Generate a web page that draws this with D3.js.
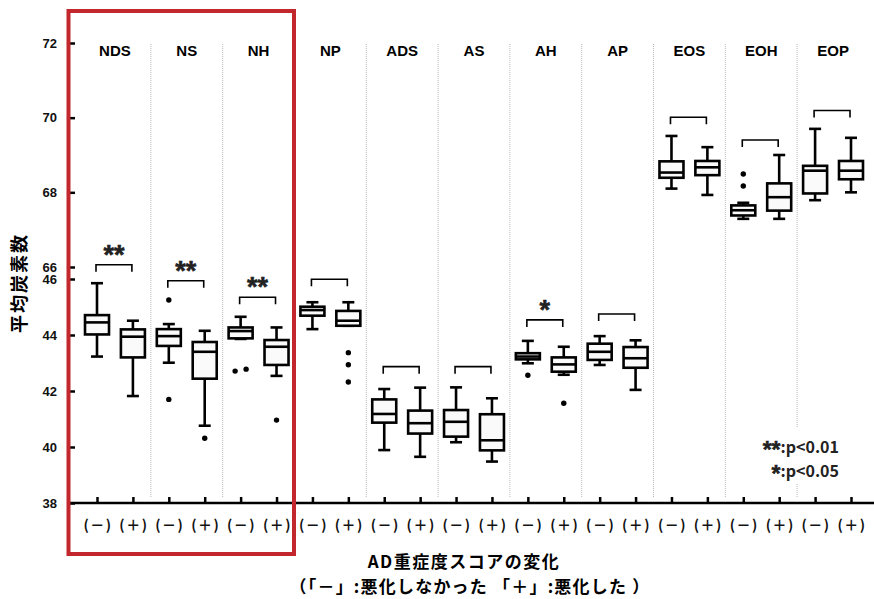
<!DOCTYPE html>
<html>
  <head>
    <meta charset="utf-8" />
    <title>平均炭素数 box plot</title>
    <script src="https://d3js.org/d3.v7.min.js"></script>
    <style>
      body { margin: 0; background: #fff; }
      .lat { font-family: "Liberation Sans", Arial, sans-serif; font-weight: bold; }
      .jp { font-family: "Noto Sans CJK JP", sans-serif; font-weight: bold; }
    </style>
  </head>
  <body>
    <svg width="874" height="599"></svg>
    <script>
      // ---- data ----
      const groups = ["NDS", "NS", "NH", "NP", "ADS", "AS", "AH", "AP", "EOS", "EOH", "EOP"];
      const upperGroups = ["EOS", "EOH", "EOP"]; // drawn on the 66-72 panel
      const signs = ["−", "+"];
      // order: NDS(−), NDS(+), NS(−), NS(+), ...
      const whiskerLow = [43.23, 41.82, 43.01, 40.76, 43.86, 42.54, 44.21, 44.33, 39.89, 39.65, 40.17, 39.48, 42.99, 42.58, 42.93, 42.04, 68.10, 67.93, 67.29, 67.29, 67.79, 68.00];
      const q1 =         [44.02, 43.20, 43.61, 42.44, 43.88, 42.93, 44.69, 44.33, 40.87, 40.48, 40.37, 39.88, 43.13, 42.69, 43.11, 42.83, 68.39, 68.46, 67.38, 67.51, 67.97, 68.35];
      const median =     [44.45, 43.94, 43.96, 43.40, 44.14, 43.58, 44.89, 44.51, 41.18, 40.85, 40.90, 40.24, 43.23, 42.95, 43.40, 43.17, 68.53, 68.67, 67.52, 67.87, 68.58, 68.58];
      const q3 =         [44.71, 44.20, 44.21, 43.75, 44.27, 43.82, 45.01, 44.86, 41.70, 41.30, 41.32, 41.17, 43.35, 43.20, 43.69, 43.57, 68.83, 68.84, 67.65, 68.24, 68.71, 68.84];
      const whiskerHigh =[45.85, 44.51, 44.39, 44.15, 44.65, 44.27, 45.17, 45.17, 42.07, 42.12, 42.13, 41.74, 43.79, 43.58, 43.96, 43.81, 69.51, 69.21, 67.72, 69.00, 69.70, 69.46];
      const outliers = [[], [], [45.25, 41.70], [40.31], [42.71, 42.78], [40.96], [], [43.37, 42.94, 42.32], [], [], [], [], [42.56], [41.56], [], [], [], [], [68.49, 68.17], [], [], []];
      // significance brackets, one per group
      const bracketLevel = [46.51, 45.94, 45.35, 45.99, 42.87, 42.87, 44.54, 44.75, 70.01, 69.40, 70.19];
      const sigMark = ["**", "**", "**", "", "", "", "*", "", "", "", ""];
      const lowTicks = [38, 40, 42, 44, 46];
      const highTicks = [66, 68, 70, 72];
      const legendMarks = ["**", "*"];
      const legendText = [":p<0.01", ":p<0.05"];
      const xTitle = "AD重症度スコアの変化";
      const xSubtitle = "（「－」:悪化しなかった 「＋」:悪化した ）";
      const yTitle = "平均炭素数";

      // ---- scales ----
      const svg = d3.select("svg");
      const keys = groups.flatMap((g) => signs.map((s) => g + s));
      const x = d3.scalePoint().domain(keys).range([97, 851]);
      const yLow = d3.scaleLinear().domain([38, 46]).range([503, 279]);
      const yHigh = d3.scaleLinear().domain([66, 72]).range([267, 43]);
      const yFor = (g) => (upperGroups.includes(g) ? yHigh : yLow);

      // group separators (dotted)
      const sepX = groups.slice(1).map((g, i) => (x(groups[i] + "+") + x(g + "−")) / 2);
      svg
        .selectAll(".sep")
        .data(sepX)
        .enter()
        .append("line")
        .attr("x1", (d) => d)
        .attr("x2", (d) => d)
        .attr("y1", 44)
        .attr("y2", 497)
        .attr("stroke", "#b8b8b8")
        .attr("stroke-width", 1)
        .attr("stroke-dasharray", "1,1");

      // group labels
      svg
        .selectAll(".glab")
        .data(groups)
        .enter()
        .append("text")
        .attr("class", "lat")
        .attr("x", (g) => (x(g + "−") + x(g + "+")) / 2)
        .attr("y", 56)
        .attr("text-anchor", "middle")
        .attr("font-size", 15)
        .text((g) => g);

      // y axes
      const axL = svg.append("g").attr("transform", "translate(69,0)");
      const fmt = d3.format("d");
      axL.append("g").call(d3.axisLeft(yLow).tickValues(lowTicks).tickFormat(fmt).tickSizeInner(-6).tickSizeOuter(0).tickPadding(12));
      axL.append("g").call(d3.axisLeft(yHigh).tickValues(highTicks).tickFormat(fmt).tickSizeInner(-6).tickSizeOuter(0).tickPadding(12));
      axL.selectAll(".domain").remove();
      axL.selectAll(".tick line").attr("stroke", "#000").attr("stroke-width", 2.5);
      axL.selectAll(".tick text").attr("class", "lat").attr("font-size", 13).attr("fill", "#111");

      // x axis
      const axB = svg.append("g").attr("transform", "translate(0,503)");
      axB.call(d3.axisBottom(x).tickSizeInner(-6).tickSizeOuter(0).tickFormat(() => ""));
      axB.select(".domain").remove();
      axB.selectAll(".tick line").attr("stroke", "#000").attr("stroke-width", 2.5);
      axB.append("line").attr("x1", 69).attr("x2", 874).attr("stroke", "#000").attr("stroke-width", 2.5);
      axB
        .selectAll(".slab")
        .data(keys)
        .enter()
        .append("text")
        .attr("class", "jp")
        .attr("x", (k) => x(k) + 1)
        .attr("y", 27)
        .attr("fill", "#111")
        .attr("text-anchor", "middle")
        .attr("font-size", 14)
        .attr("font-weight", 500)
        .attr("letter-spacing", 1.5)
        .text((k) => (k.endsWith("+") ? "(＋)" : "(－)"));

      // boxes
      const stats = keys.map((k, i) => ({
        key: k,
        group: k.slice(0, -1),
        lo: whiskerLow[i],
        q1: q1[i],
        med: median[i],
        q3: q3[i],
        hi: whiskerHigh[i],
        out: outliers[i],
      }));
      const bw = 24, cw = 12;
      const box = svg
        .selectAll(".box")
        .data(stats)
        .enter()
        .append("g")
        .attr("transform", (d) => `translate(${x(d.key)},0)`)
        .attr("stroke", "#000")
        .attr("stroke-width", 2.6);
      box.each(function (d) {
        const g = d3.select(this);
        const y = yFor(d.group);
        g.append("line").attr("y1", y(d.hi)).attr("y2", y(d.q3));
        g.append("line").attr("y1", y(d.q1)).attr("y2", y(d.lo));
        g.append("line").attr("x1", -cw / 2).attr("x2", cw / 2).attr("y1", y(d.hi)).attr("y2", y(d.hi));
        g.append("line").attr("x1", -cw / 2).attr("x2", cw / 2).attr("y1", y(d.lo)).attr("y2", y(d.lo));
        g.append("rect")
          .attr("x", -bw / 2)
          .attr("width", bw)
          .attr("y", y(d.q3))
          .attr("height", y(d.q1) - y(d.q3))
          .attr("fill", "#fafafa");
        g.append("line").attr("x1", -bw / 2).attr("x2", bw / 2).attr("y1", y(d.med)).attr("y2", y(d.med));
        // outliers; values closer than 0.2 sit side by side
        const sorted = d.out.slice().sort((a, b) => a - b);
        sorted.forEach((v) => {
          const near = sorted.filter((w) => Math.abs(w - v) < 0.2);
          const dx = (near.indexOf(v) - (near.length - 1) / 2) * 11;
          g.append("circle").attr("cx", dx).attr("cy", y(v)).attr("r", 2.7).attr("stroke", "none").attr("fill", "#000");
        });
      });

      // significance brackets
      groups.forEach((g, i) => {
        const y = yFor(g);
        const x0 = x(g + "−") - 1, x1 = x(g + "+") - 1;
        const by = y(bracketLevel[i]);
        svg
          .append("path")
          .attr("d", `M${x0},${by + 7}V${by}H${x1}V${by + 7}`)
          .attr("fill", "none")
          .attr("stroke", "#000")
          .attr("stroke-width", 1.6);
        if (sigMark[i]) {
          svg
            .append("text")
            .attr("class", "lat")
            .attr("x", (x0 + x1) / 2)
            .attr("y", by - 1)
            .attr("text-anchor", "middle")
            .attr("font-size", 27)
            .attr("fill", "#222")
            .attr("stroke", "#222")
            .attr("stroke-width", 0.6)
            .text(sigMark[i]);
        }
      });

      // legend
      svg.append("rect").attr("x", 748).attr("y", 428).attr("width", 98).attr("height", 55).attr("fill", "#fff");
      const leg = svg
        .selectAll(".leg")
        .data(legendText)
        .enter()
        .append("text")
        .attr("class", "jp")
        .attr("x", 839)
        .attr("y", (d, i) => 453 + i * 24)
        .attr("text-anchor", "end")
        .attr("font-size", 16)
        .attr("fill", "#222");
      leg
        .append("tspan")
        .attr("class", "lat")
        .attr("font-size", 23)
        .attr("dy", 5)
        .attr("stroke", "#222")
        .attr("stroke-width", 0.5)
        .text((d, i) => legendMarks[i]);
      leg
        .append("tspan")
        .attr("dy", -5)
        .text((d) => d);

      // titles
      svg
        .append("text")
        .attr("class", "jp")
        .attr("transform", "translate(26,283) rotate(-90)")
        .attr("text-anchor", "middle")
        .attr("font-size", 18)
        .attr("letter-spacing", 2)
        .text(yTitle);
      svg
        .append("text")
        .attr("class", "jp")
        .attr("x", 464)
        .attr("y", 568)
        .attr("text-anchor", "middle")
        .attr("font-size", 17)
        .attr("letter-spacing", 1.5)
        .text(xTitle);
      svg
        .append("text")
        .attr("class", "jp")
        .attr("x", 470)
        .attr("y", 593)
        .attr("text-anchor", "middle")
        .attr("font-size", 17)
        .attr("letter-spacing", 1.2)
        .text(xSubtitle);

      // red highlight frame around NDS / NS / NH
      svg
        .append("rect")
        .attr("x", 68.5)
        .attr("y", 11)
        .attr("width", 294 - 68.5)
        .attr("height", 554 - 11)
        .attr("fill", "none")
        .attr("stroke", "#c1272d")
        .attr("stroke-width", 4);
    </script>
  </body>
</html>
